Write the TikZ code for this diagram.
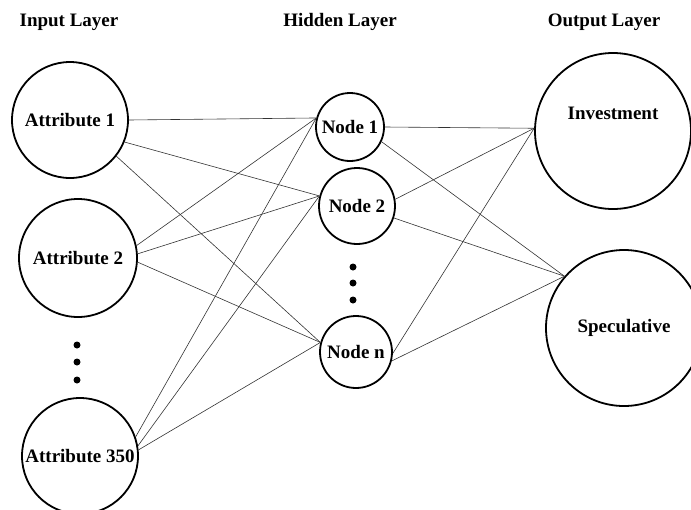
\documentclass[tikz,border=0pt]{standalone}
\usepackage{fontspec}
\setmainfont{Liberation Serif}
\usetikzlibrary{positioning}
\tikzset{
  neuron/.style={draw, circle, line width=1.8pt, inner sep=0pt, font=\bfseries\fontsize{19}{21}\selectfont},
  layer/.style={font=\bfseries\fontsize{19}{21}\selectfont},
  link/.style={line width=0.6pt, black!80},
  vdot/.style={fill, circle, inner sep=0pt, minimum size=7pt}
}

\begin{document}
\begin{tikzpicture}[x=1pt, y=-1pt]
\useasboundingbox (0,0) rectangle (691,509);
\clip (0,0) rectangle (691,509);

% layer titles
\node (tin) [layer] at (69,22) {Input Layer};
\node (thid) [layer] at (340,22) {Hidden Layer};
\node (tout) [layer] at (604,22) {Output Layer};

% input layer
\node (a1) [neuron, minimum size=116pt] at (70,120) {Attribute 1};
\node (a2) [neuron, minimum size=118pt] at (78,258) {Attribute 2};
\node (a3) [neuron, minimum size=116pt] at (80,456) {Attribute 350};
\node (ad1) [vdot] at (77,345) {};
\node (ad2) [vdot] at (77,362) {};
\node (ad3) [vdot] at (77,380) {};

% hidden layer
\node (h1) [neuron, minimum size=68pt] at (350,127) {Node 1};
\node (h2) [neuron, minimum size=76pt] at (357,206) {Node 2};
\node (hn) [neuron, minimum size=72pt] at (356,352) {Node n};
\node (hd1) [vdot] at (353,267) {};
\node (hd2) [vdot] at (353,283) {};
\node (hd3) [vdot] at (353,300) {};

% output layer
\node (inv) [neuron, minimum size=156pt, label={[layer, yshift=18pt]center:Investment}] at (613,131) {};
\node (spec) [neuron, minimum size=156pt] at (624,328) {Speculative};

% input -> hidden
\draw [link] (a1.east) -- (h1.165);
\draw [link] (a1.-22) -- (h2.165);
\draw [link] (a1.-38) -- (hn.165);
\draw [link] (a2.12) -- (h1.165);
\draw [link] (a2.4) -- (h2.165);
\draw [link] (a2.-4) -- (hn.165);
\draw [link] (a3.19) -- (h1.165);
\draw [link] (a3.10) -- (h2.165);
\draw [link] (a3.6) -- (hn.165);

% hidden -> output
\draw [link] (h1.east) -- (inv.178);
\draw [link] (h1.-25) -- (spec.139);
\draw [link] (h2.10) -- (inv.178);
\draw [link] (h2.-18) -- (spec.139);
\draw [link] (hn.-2) -- (inv.178);
\draw [link] (hn.-14) -- (spec.139);

\end{tikzpicture}
\end{document}
